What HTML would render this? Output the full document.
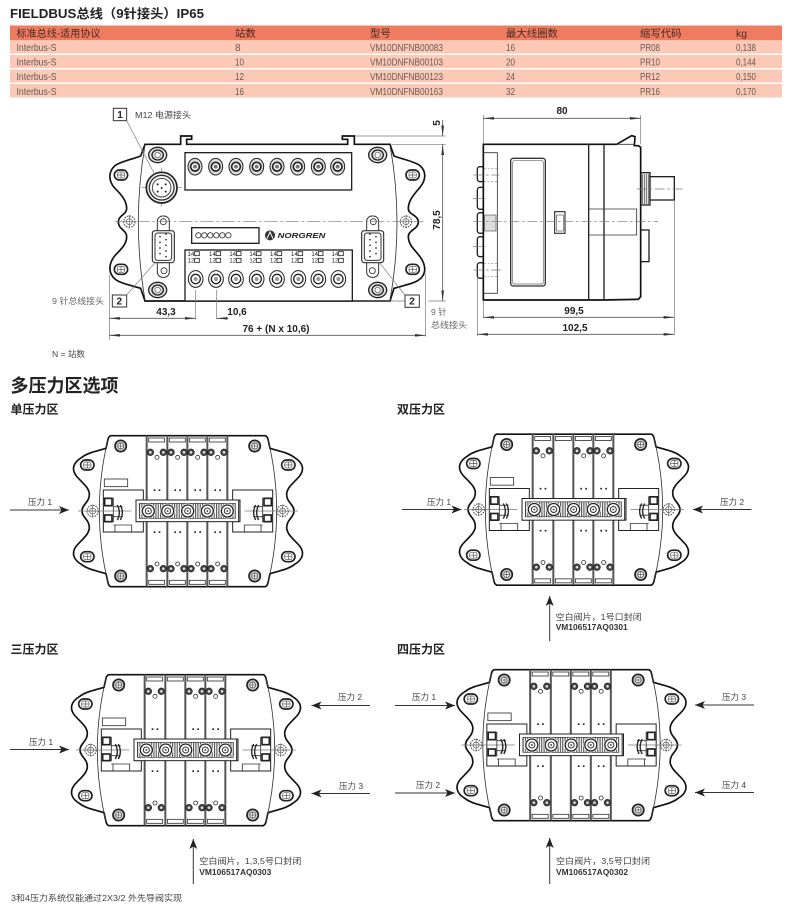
<!DOCTYPE html>
<html><head><meta charset="utf-8">
<style>
html,body{margin:0;padding:0;background:#fff;width:790px;height:907px;overflow:hidden}
svg{display:block}
text{font-family:"Liberation Sans","Noto Sans CJK SC",sans-serif;fill:#333}
.h{font-size:10.4px;fill:#4a2a22}
.r{font-size:10px;fill:#6a5a55}
.d{font-size:10px;font-weight:bold;fill:#222;text-anchor:middle}
.l{font-size:8.5px;fill:#444}
.s{font-size:12px;font-weight:bold;fill:#222}
.k{stroke:#222;stroke-width:5;fill:none}
.t{stroke:#333;stroke-width:2.5;fill:none}
.g{stroke:#777;stroke-width:2;fill:none}
.f{stroke:#222;stroke-width:4;fill:#fff}
</style></head><body>
<svg xmlns="http://www.w3.org/2000/svg" width="790" height="907" viewBox="0 0 790 907">
<defs>
<marker id="a" markerWidth="11" markerHeight="8" refX="10" refY="4" orient="auto" markerUnits="userSpaceOnUse"><path d="M0,0 L10,4 L0,8 L2.5,4Z" fill="#222"/></marker>
<marker id="da" markerWidth="33" markerHeight="12" refX="32" refY="6" orient="auto-start-reverse" markerUnits="userSpaceOnUse"><path d="M0,2 L32,6 L0,10Z" fill="#333"/></marker>
<pattern id="st" width="7" height="10" patternUnits="userSpaceOnUse"><rect width="7" height="10" fill="#fff"/><rect width="3.4" height="10" fill="#555"/></pattern>
<g id="scr"><circle r="17" fill="#ccc" stroke="#222" stroke-width="5"/><circle r="9" fill="#fff" stroke="#444" stroke-width="2"/><path d="M-9,0H9M0,-9V9" stroke="#555" stroke-width="2"/></g>
<g id="fs"><ellipse rx="27" ry="23" fill="#e4e4e4" stroke="#222" stroke-width="4"/><ellipse rx="17" ry="15" fill="#ddd" stroke="#222" stroke-width="4"/><circle r="8" fill="#fff" stroke="#555" stroke-width="2"/></g>
<g id="slot"><rect x="-20" y="-15" width="40" height="30" rx="15" fill="#fff" stroke="#222" stroke-width="5"/><rect x="-11" y="-9" width="22" height="18" rx="6" fill="#fff" stroke="#555" stroke-width="2"/><path d="M0,-9V9M-11,0H11" stroke="#555" stroke-width="2"/></g>
<g id="cb"><circle r="17" fill="#fff" stroke="#444" stroke-width="3" stroke-dasharray="5 3"/><circle r="9" fill="#fff" stroke="#555" stroke-width="2"/><path d="M-20,0H20M0,-20V20" stroke="#666" stroke-width="2"/></g>
<g id="dk"><circle r="10" fill="#444" stroke="#222" stroke-width="2"/><circle r="4" fill="#ddd"/></g>
<g id="pt"><circle r="18" fill="#fff" stroke="#222" stroke-width="4"/><circle r="9" fill="#fff" stroke="#333" stroke-width="3"/><circle r="3" fill="#555"/></g>
<g id="sb">
<path class="f" d="M-254,-63 L-134,-63 L-134,-33 L-156,-33 L-156,32 L-134,32 L-134,63 L-254,63Z" style="stroke-width:3"/>
<path class="g" d="M-330,0H-170"/>
<path class="t" d="M-254,-38H-224V32H-254M-224,-13H-196M-224,17H-196M-224,42H-169V62M-219,42V62"/>
<rect x="-250" y="-38" width="22" height="22" fill="#fff" stroke="#222" stroke-width="5"/>
<rect x="-250" y="12" width="22" height="20" fill="#fff" stroke="#222" stroke-width="5"/>
<path class="k" style="stroke-width:4" d="M-212,-18 Q-200,5 -212,27 M-203,-18 Q-191,5 -203,27"/>
</g>
<g id="v">
<rect class="t" x="6" y="-219" width="48" height="12"/><rect class="t" x="6" y="208" width="48" height="12"/>
<use href="#dk" x="11" y="-176"/><use href="#dk" x="50" y="-176"/><use href="#dk" x="11" y="173"/><use href="#dk" x="50" y="173"/>
<circle cx="31" cy="-161" r="6" fill="#fff" stroke="#333" stroke-width="2.5"/><circle cx="31" cy="159" r="6" fill="#fff" stroke="#333" stroke-width="2.5"/>
<rect x="21" y="-65" width="5" height="5" fill="#222"/><rect x="36" y="-65" width="5" height="5" fill="#222"/>
<rect x="21" y="61" width="5" height="5" fill="#222"/><rect x="36" y="61" width="5" height="5" fill="#222"/>
</g>
<g id="b"><rect class="t" x="6" y="-219" width="48" height="12"/><rect class="t" x="6" y="208" width="48" height="12"/></g>
<g id="m">
<path fill="#fff" stroke="#111" stroke-width="5" d="M-232,-226 L232,-226 Q238,-224 240,-215 L246,-188 C270,-180 300,-176 320,-160 C345,-145 350,-125 335,-105 C318,-85 296,-70 296,-50 C296,-25 318,-20 318,0 C318,20 296,25 296,50 C296,70 318,85 335,105 C350,125 345,145 320,160 C300,176 270,180 246,188 L240,215 Q238,224 232,227 L-232,227 Q-238,224 -240,215 L-246,188 C-270,180 -300,176 -320,160 C-345,145 -350,125 -335,105 C-318,85 -296,70 -296,50 C-296,25 -318,20 -318,0 C-318,-20 -296,-25 -296,-50 C-296,-70 -318,-85 -335,-105 C-350,-125 -345,-145 -320,-160 C-300,-176 -270,-180 -246,-188 L-240,-215 Q-238,-224 -232,-226Z"/>
<path class="t" d="M240,-215 Q292,0 240,215 M-240,-215 Q-292,0 -240,215"/>
<use href="#scr" x="-202" y="-195"/><use href="#scr" x="200" y="-195"/><use href="#scr" x="-202" y="195"/><use href="#scr" x="200" y="195"/>
<use href="#slot" x="-302" y="-138"/><use href="#slot" x="301" y="-138"/><use href="#slot" x="-302" y="137"/><use href="#slot" x="301" y="137"/>
<use href="#cb" x="-286" y="0"/><use href="#cb" x="284" y="0"/>
<rect class="t" x="-251" y="-96" width="70" height="23"/>
<use href="#sb"/><use href="#sb" transform="scale(-1,1)"/>
<path stroke="#555" stroke-width="6" fill="none" d="M-124,-226V227M-62,-226V227M-2,-226V227M58,-226V227M118,-226V227"/>
</g>
<g id="bar">
<rect x="-156" y="-33" width="308" height="65" fill="#fff" stroke="#222" stroke-width="3"/>
<rect x="-146" y="-23" width="288" height="45" fill="url(#st)" stroke="#333" stroke-width="2"/>
<g fill="#fff"><circle cx="-119" r="22"/><circle cx="-61" r="22"/><circle cx="-1" r="22"/><circle cx="58" r="22"/><circle cx="118" r="22"/></g>
<use href="#pt" x="-119"/><use href="#pt" x="-61"/><use href="#pt" x="-1"/><use href="#pt" x="58"/><use href="#pt" x="118"/>
</g>
<g id="tc"><ellipse rx="21" ry="25" fill="#ddd" stroke="#222" stroke-width="3"/><circle r="13" fill="#fff" stroke="#222" stroke-width="5"/><circle r="6" fill="#777"/></g>
<g id="bc"><ellipse rx="22" ry="25" fill="#fff" stroke="#222" stroke-width="3"/><circle r="14" fill="#fff" stroke="#222" stroke-width="4"/><circle r="6" fill="#999"/></g>
<g id="lb"><text x="0" y="0" style="font-size:18px;fill:#222">14</text><rect x="21" y="-13" width="14" height="12" fill="#fff" stroke="#222" stroke-width="2.5"/><text x="0" y="20" style="font-size:18px;fill:#222">12</text><rect x="21" y="7" width="14" height="12" fill="#fff" stroke="#222" stroke-width="2.5"/></g>
<g id="ds"><rect x="-18" y="-92" width="36" height="184" rx="16" fill="#fff" stroke="#333" stroke-width="3"/><rect x="-33" y="-48" width="66" height="96" rx="8" fill="#fff" stroke="#333" stroke-width="3.5"/><rect x="-25" y="-41" width="50" height="82" rx="8" fill="#fff" stroke="#333" stroke-width="3"/></g>
</defs>

<!-- Title and table -->
<text x="10" y="18" style="font-size:12.5px;font-weight:bold;fill:#222" textLength="194" lengthAdjust="spacingAndGlyphs">FIELDBUS总线（9针接头）IP65</text>
<rect x="10" y="25.5" width="772" height="15" fill="#ef7b61"/>
<rect x="10" y="41" width="772" height="12.5" fill="#fbc9b5"/>
<rect x="10" y="55" width="772" height="13" fill="#fbc9b5"/>
<rect x="10" y="69.5" width="772" height="13" fill="#fbc9b5"/>
<rect x="10" y="84" width="772" height="13.5" fill="#fbc9b5"/>
<text class="h" x="16.5" y="37" textLength="84" lengthAdjust="spacingAndGlyphs">标准总线-适用协议</text>
<text class="h" x="235" y="37">站数</text><text class="h" x="370" y="37">型号</text><text class="h" x="506" y="37">最大线圈数</text><text class="h" x="640" y="37">缩写代码</text><text class="h" x="736" y="37">kg</text>
<g class="r">
<text class="r" x="16.5" y="51" textLength="40" lengthAdjust="spacingAndGlyphs">Interbus-S</text><text class="r" x="235" y="51">8</text><text class="r" x="370" y="51" textLength="73" lengthAdjust="spacingAndGlyphs">VM10DNFNB00083</text><text class="r" x="506" y="51" textLength="9" lengthAdjust="spacingAndGlyphs">16</text><text class="r" x="640" y="51" textLength="20" lengthAdjust="spacingAndGlyphs">PR08</text><text class="r" x="736" y="51" textLength="20" lengthAdjust="spacingAndGlyphs">0,138</text>
<text class="r" x="16.5" y="65.5" textLength="40" lengthAdjust="spacingAndGlyphs">Interbus-S</text><text class="r" x="235" y="65.5" textLength="9" lengthAdjust="spacingAndGlyphs">10</text><text class="r" x="370" y="65.5" textLength="73" lengthAdjust="spacingAndGlyphs">VM10DNFNB00103</text><text class="r" x="506" y="65.5" textLength="9" lengthAdjust="spacingAndGlyphs">20</text><text class="r" x="640" y="65.5" textLength="20" lengthAdjust="spacingAndGlyphs">PR10</text><text class="r" x="736" y="65.5" textLength="20" lengthAdjust="spacingAndGlyphs">0,144</text>
<text class="r" x="16.5" y="80" textLength="40" lengthAdjust="spacingAndGlyphs">Interbus-S</text><text class="r" x="235" y="80" textLength="9" lengthAdjust="spacingAndGlyphs">12</text><text class="r" x="370" y="80" textLength="73" lengthAdjust="spacingAndGlyphs">VM10DNFNB00123</text><text class="r" x="506" y="80" textLength="9" lengthAdjust="spacingAndGlyphs">24</text><text class="r" x="640" y="80" textLength="20" lengthAdjust="spacingAndGlyphs">PR12</text><text class="r" x="736" y="80" textLength="20" lengthAdjust="spacingAndGlyphs">0,150</text>
<text class="r" x="16.5" y="95" textLength="40" lengthAdjust="spacingAndGlyphs">Interbus-S</text><text class="r" x="235" y="95" textLength="9" lengthAdjust="spacingAndGlyphs">16</text><text class="r" x="370" y="95" textLength="73" lengthAdjust="spacingAndGlyphs">VM10DNFNB00163</text><text class="r" x="506" y="95" textLength="9" lengthAdjust="spacingAndGlyphs">32</text><text class="r" x="640" y="95" textLength="20" lengthAdjust="spacingAndGlyphs">PR16</text><text class="r" x="736" y="95" textLength="20" lengthAdjust="spacingAndGlyphs">0,170</text>
</g>

<!-- Front view -->
<g transform="translate(90,100) scale(.33333)">
<path fill="#fff" stroke="#111" stroke-width="5" d="M165,133 L272,133 L272,108 L305,108 L305,118 L290,118 L290,133 L773,133 L773,118 L757,118 L757,108 L793,108 L793,133 L900,133 L912,168 C945,180 975,185 990,197 C1010,215 1008,240 990,262 C975,280 955,300 955,325 C955,345 985,345 985,366 C985,388 955,390 955,410 C955,435 975,450 990,470 C1008,495 1010,520 990,537 C975,550 945,555 912,565 L900,603 L165,603 L152,565 C120,555 90,550 75,537 C55,520 55,495 72,470 C90,450 110,435 110,410 C110,390 85,388 85,366 C85,345 110,345 110,325 C110,300 90,280 72,262 C55,240 55,215 75,197 C90,185 120,180 152,168Z"/>
<path class="t" d="M165,135 Q125,366 165,600 M900,135 Q942,366 900,600"/>
<use href="#slot" x="93" y="225"/><use href="#slot" x="968" y="225"/><use href="#slot" x="93" y="508"/><use href="#slot" x="968" y="508"/>
<use href="#fs" x="203" y="165"/><use href="#fs" x="863" y="165"/><use href="#fs" x="203" y="570"/><use href="#fs" x="863" y="570"/>
<use href="#cb" x="118" y="365"/><use href="#cb" x="948" y="365"/>
<rect x="285" y="158" width="500" height="112" fill="#fff" stroke="#222" stroke-width="4"/>
<use href="#tc" x="315" y="200"/><use href="#tc" x="377" y="200"/><use href="#tc" x="438" y="200"/><use href="#tc" x="500" y="200"/><use href="#tc" x="561" y="200"/><use href="#tc" x="623" y="200"/><use href="#tc" x="685" y="200"/><use href="#tc" x="743" y="200"/>
<rect x="285" y="450" width="502" height="153" fill="#fff" stroke="#222" stroke-width="4"/>
<use href="#bc" x="317" y="537"/><use href="#bc" x="378" y="537"/><use href="#bc" x="438" y="537"/><use href="#bc" x="500" y="537"/><use href="#bc" x="561" y="537"/><use href="#bc" x="625" y="537"/><use href="#bc" x="685" y="537"/><use href="#bc" x="745" y="537"/>
<use href="#lb" x="293" y="468"/><use href="#lb" x="357" y="468"/><use href="#lb" x="418" y="468"/><use href="#lb" x="478" y="468"/><use href="#lb" x="540" y="468"/><use href="#lb" x="603" y="468"/><use href="#lb" x="664" y="468"/><use href="#lb" x="725" y="468"/>
<path class="g" d="M155,263H275M215,203V320"/>
<circle cx="215" cy="263" r="46" fill="#eee" stroke="#222" stroke-width="5"/><circle cx="215" cy="263" r="37" fill="#fff" stroke="#333" stroke-width="4"/><circle cx="215" cy="263" r="28" fill="#fff" stroke="#444" stroke-width="3"/>
<g fill="#222"><circle cx="203" cy="253" r="3"/><circle cx="227" cy="253" r="3"/><circle cx="203" cy="275" r="3"/><circle cx="227" cy="275" r="3"/><circle cx="215" cy="264" r="3"/></g>
<use href="#ds" x="220" y="440"/><use href="#ds" x="848" y="440"/>
<circle cx="220" cy="365" r="9" fill="#fff" stroke="#333" stroke-width="2.5"/><circle cx="222" cy="512" r="9" fill="#fff" stroke="#333" stroke-width="2.5"/><circle cx="850" cy="365" r="9" fill="#fff" stroke="#333" stroke-width="2.5"/><circle cx="847" cy="512" r="9" fill="#fff" stroke="#333" stroke-width="2.5"/>
<g fill="#222"><circle cx="210" cy="410" r="2.5"/><circle cx="210" cy="427" r="2.5"/><circle cx="210" cy="444" r="2.5"/><circle cx="210" cy="461" r="2.5"/><circle cx="228" cy="402" r="2.5"/><circle cx="228" cy="419" r="2.5"/><circle cx="228" cy="436" r="2.5"/><circle cx="228" cy="453" r="2.5"/><circle cx="228" cy="470" r="2.5"/>
<circle cx="858" cy="410" r="2.5"/><circle cx="858" cy="427" r="2.5"/><circle cx="858" cy="444" r="2.5"/><circle cx="858" cy="461" r="2.5"/><circle cx="840" cy="402" r="2.5"/><circle cx="840" cy="419" r="2.5"/><circle cx="840" cy="436" r="2.5"/><circle cx="840" cy="453" r="2.5"/><circle cx="840" cy="470" r="2.5"/></g>
<rect x="305" y="383" width="202" height="47" fill="#fff" stroke="#222" stroke-width="4"/>
<g fill="#fff" stroke="#333" stroke-width="2.5"><circle cx="325" cy="406" r="8"/><circle cx="343" cy="406" r="8"/><circle cx="361" cy="406" r="8"/><circle cx="379" cy="406" r="8"/><circle cx="397" cy="406" r="8"/><circle cx="415" cy="406" r="8"/></g>
<circle cx="540" cy="406" r="15" fill="#333"/><path d="M531,416L540,396L549,416" stroke="#fff" stroke-width="3" fill="none"/>
<text x="563" y="414" style="font-size:22px;font-weight:bold;font-style:italic;fill:#222" textLength="143" lengthAdjust="spacingAndGlyphs">NORGREN</text>
<path d="M75,365H1000" stroke="#777" stroke-width="2" stroke-dasharray="40 8 8 8" fill="none"/>
<rect x="70" y="25" width="40" height="37" fill="#fff" stroke="#333" stroke-width="3"/>
<rect x="67" y="585" width="43" height="36" fill="#fff" stroke="#333" stroke-width="3"/>
<rect x="945" y="585" width="43" height="37" fill="#fff" stroke="#333" stroke-width="3"/>
<path class="g" d="M110,62L195,225M110,585L195,488M945,585L870,490"/>
<path class="g" d="M795,108H1067M905,133H1067M790,603H945M1015,603H1067M317,570V658M380,570V658M58,525V720M1007,520V710"/>
<path class="t" style="stroke:#555" marker-end="url(#da)" d="M1058,60V108"/>
<path class="t" style="stroke:#555" marker-start="url(#da)" marker-end="url(#da)" d="M1058,133V603"/>
<path class="t" style="stroke:#555" marker-start="url(#da)" marker-end="url(#da)" d="M58,655H317"/>
<path class="t" style="stroke:#555" marker-start="url(#da)" d="M380,655H415"/>
<path class="t" style="stroke:#555" marker-start="url(#da)" marker-end="url(#da)" d="M58,706H1007"/>
</g>
<text x="120" y="118" text-anchor="middle" style="font-size:10px;font-weight:bold;fill:#222">1</text>
<text x="119.3" y="304.5" text-anchor="middle" style="font-size:10px;font-weight:bold;fill:#222">2</text>
<text x="412" y="304.5" text-anchor="middle" style="font-size:10px;font-weight:bold;fill:#222">2</text>
<text class="l" x="135" y="118" textLength="56" lengthAdjust="spacingAndGlyphs">M12 电源接头</text>
<text class="l" x="52" y="304" textLength="52" lengthAdjust="spacingAndGlyphs" style="fill:#666">9 针总线接头</text>
<text class="l" x="431" y="315" style="fill:#666">9 针</text>
<text class="l" x="431" y="328" style="fill:#666" textLength="36" lengthAdjust="spacingAndGlyphs">总线接头</text>
<text class="l" x="52" y="357">N = 站数</text>
<text class="d" x="166" y="315">43,3</text><text class="d" x="237" y="315">10,6</text><text class="d" x="276" y="332">76 + (N x 10,6)</text>
<text class="d" transform="translate(440,123) rotate(-90)">5</text><text class="d" transform="translate(440,220) rotate(-90)">78,5</text>

<!-- Side view -->
<g transform="translate(460,100) scale(.33333)">
<g fill="#fff" stroke="#222" stroke-width="4">
<rect x="52" y="200" width="20" height="45" rx="8"/><rect x="52" y="262" width="20" height="66" rx="8"/><rect x="52" y="338" width="20" height="62" rx="8"/><rect x="52" y="410" width="20" height="60" rx="8"/><rect x="52" y="488" width="20" height="47" rx="8"/>
<rect x="542" y="218" width="28" height="97"/><rect x="570" y="230" width="73" height="70"/><rect x="542" y="390" width="25" height="95"/>
</g>
<path d="M547,222V312M553,222V312M559,222V312M565,222V312" stroke="#666" stroke-width="3" fill="none"/>
<path fill="#fff" stroke="#111" stroke-width="5" d="M70,133 L470,133 L515,107 L525,110 L523,137 L535,137 L542,142 L542,590 L535,598 L430,600 L70,600Z"/>
<path class="k" style="stroke-width:4" d="M386,133V600M432,133V600"/>
<path class="t" d="M70,158H112V580H70M470,133H523"/>
<path class="t" d="M386,327H530V405H386"/>
<rect x="152" y="175" width="104" height="383" rx="8" fill="#fff" stroke="#333" stroke-width="4"/>
<rect x="158" y="182" width="92" height="370" rx="5" fill="#fff" stroke="#666" stroke-width="2"/>
<rect x="284" y="335" width="31" height="65" fill="#fff" stroke="#333" stroke-width="3.5"/><rect x="290" y="345" width="20" height="48" fill="#fff" stroke="#555" stroke-width="2"/>
<rect x="74" y="345" width="34" height="48" fill="#ddd" stroke="#555" stroke-width="2"/>
<path d="M72,205H112M72,245H112M72,490H112M72,530H112" stroke="#888" stroke-width="2" stroke-dasharray="6 5" fill="none"/>
<path stroke="#777" stroke-width="2" stroke-dasharray="30 8 8 8" fill="none" d="M40,365H595M530,267H670M40,225H118M38,295H78M38,440H78M40,510H122"/>
<path class="g" d="M70,45V133M542,45V133M643,300V705M70,600V655M52,530V708"/>
<path class="t" style="stroke:#555" marker-start="url(#da)" marker-end="url(#da)" d="M70,55H542"/>
<path class="t" style="stroke:#555" marker-start="url(#da)" marker-end="url(#da)" d="M70,652H643"/>
<path class="t" style="stroke:#555" marker-start="url(#da)" marker-end="url(#da)" d="M52,703H643"/>
</g>
<text class="d" x="562" y="114">80</text><text class="d" x="574" y="314">99,5</text><text class="d" x="575" y="331">102,5</text>

<!-- Section headings -->
<text x="10.5" y="392" style="font-size:18px;font-weight:bold;fill:#222">多压力区选项</text>
<text class="s" x="10.5" y="413.5">单压力区</text>
<text class="s" x="397" y="413.5">双压力区</text>
<text class="s" x="10.5" y="653.5">三压力区</text>
<text class="s" x="397" y="653.5">四压力区</text>

<!-- M1 -->
<g transform="translate(188,511) scale(.33333)"><use href="#m"/><use href="#v" x="-124"/><use href="#v" x="-62"/><use href="#v" x="-2"/><use href="#v" x="58"/><use href="#bar"/></g>
<!-- M2 -->
<g transform="translate(574,509.5) scale(.33333)"><use href="#m"/><use href="#v" x="-124"/><use href="#b" x="-62"/><use href="#v" x="-2"/><use href="#v" x="58"/><use href="#bar"/></g>
<!-- M3 -->
<g transform="translate(186,750) scale(.33333)"><use href="#m"/><use href="#v" x="-124"/><use href="#b" x="-62"/><use href="#v" x="-2"/><use href="#v" x="58"/><use href="#bar"/></g>
<!-- M4 -->
<g transform="translate(571.5,745) scale(.33333)"><use href="#m"/><use href="#v" x="-124"/><use href="#b" x="-62"/><use href="#v" x="-2"/><use href="#v" x="58"/><use href="#bar"/></g>

<!-- Arrows -->
<g stroke="#333" stroke-width="1" fill="none">
<path d="M10,510H69" marker-end="url(#a)"/>
<path d="M402,509.5H461.5" marker-end="url(#a)"/>
<path d="M751.5,509.5H693" marker-end="url(#a)"/>
<path d="M549.7,641V596" marker-end="url(#a)"/>
<path d="M10,749.5H69" marker-end="url(#a)"/>
<path d="M370,705.5H311.5" marker-end="url(#a)"/>
<path d="M370,793.5H311.5" marker-end="url(#a)"/>
<path d="M193.3,884V839" marker-end="url(#a)"/>
<path d="M395,705.5H455" marker-end="url(#a)"/>
<path d="M395,793H455" marker-end="url(#a)"/>
<path d="M754,705H695" marker-end="url(#a)"/>
<path d="M754,792.5H695" marker-end="url(#a)"/>
<path d="M549.7,884V838" marker-end="url(#a)"/>
</g>

<g class="l">
<text class="l" x="28" y="505">压力 1</text>
<text class="l" x="427" y="505">压力 1</text><text class="l" x="720" y="505">压力 2</text>
<text class="l" x="29" y="745">压力 1</text><text class="l" x="338" y="700">压力 2</text><text class="l" x="339" y="789">压力 3</text>
<text class="l" x="412" y="700">压力 1</text><text class="l" x="416" y="788">压力 2</text><text class="l" x="722" y="700">压力 3</text><text class="l" x="722" y="788">压力 4</text>
<text class="l" x="555.7" y="620" textLength="86" lengthAdjust="spacingAndGlyphs">空白阀片，1号口封闭</text>
<text class="l" x="555.7" y="630" style="font-weight:bold;fill:#333" textLength="72" lengthAdjust="spacingAndGlyphs">VM106517AQ0301</text>
<text class="l" x="199.3" y="864" textLength="102" lengthAdjust="spacingAndGlyphs">空白阀片，1,3,5号口封闭</text>
<text class="l" x="199.3" y="875" style="font-weight:bold;fill:#333" textLength="72" lengthAdjust="spacingAndGlyphs">VM106517AQ0303</text>
<text class="l" x="556" y="864" textLength="94" lengthAdjust="spacingAndGlyphs">空白阀片，3,5号口封闭</text>
<text class="l" x="556" y="875" style="font-weight:bold;fill:#333" textLength="72" lengthAdjust="spacingAndGlyphs">VM106517AQ0302</text>
<text class="l" x="11" y="901" textLength="171" lengthAdjust="spacingAndGlyphs">3和4压力系统仅能通过2X3/2 外先导阀实现</text>
</g>
</svg>
</body></html>
